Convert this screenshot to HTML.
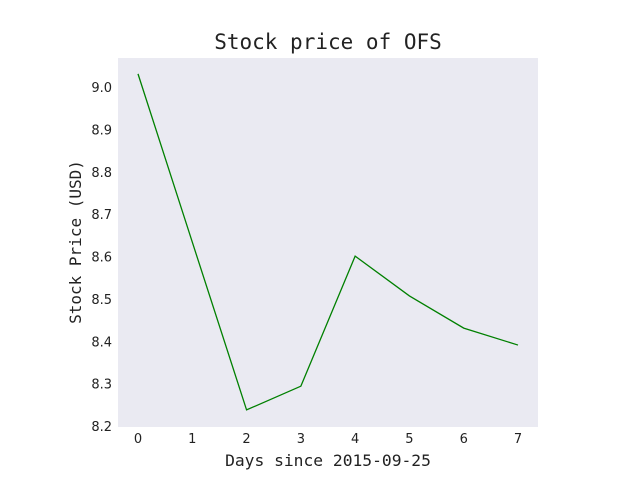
<!DOCTYPE html>
<html><head><meta charset="utf-8"><style>
body{margin:0;background:#fff}
svg text{font-family:"DejaVu Sans","Liberation Sans",sans-serif}
</style></head><body>
<svg id="chart" width="640" height="480" xmlns="http://www.w3.org/2000/svg">
<rect x="118" y="58" width="420" height="369" fill="#eaeaf2"/>
<text x="328" y="49" text-anchor="middle" font-size="21" style="font-family:'DejaVu Sans Mono','Liberation Mono',monospace" fill="#222">Stock price of OFS</text>
<text x="328" y="466" text-anchor="middle" font-size="16.3" style="font-family:'DejaVu Sans Mono','Liberation Mono',monospace" fill="#222">Days since 2015-09-25</text>
<text transform="translate(81,242) rotate(-90)" text-anchor="middle" font-size="16" style="font-family:'DejaVu Sans Mono','Liberation Mono',monospace" fill="#222">Stock Price (USD)</text>
<g id="ticks"></g>
<polyline id="line" fill="none" stroke="#008000" stroke-width="1.3"/>
</svg>
<script>
const days = [0,1,2,3,4,5,6,7];
const prices = [9.031,8.634,8.238,8.294,8.601,8.507,8.431,8.391];
const xTicks = [0,1,2,3,4,5,6,7];
const yTicks = [8.2,8.3,8.4,8.5,8.6,8.7,8.8,8.9,9.0];
const xs = d => 138 + d*(518-138)/7;
const ys = v => 426 - (v-8.2)*(426-87)/0.8;
const NS="http://www.w3.org/2000/svg";
const g=document.getElementById('ticks');
xTicks.forEach(t=>{
  const e=document.createElementNS(NS,'text');
  e.setAttribute('x',xs(t));e.setAttribute('y',443);e.setAttribute('text-anchor','middle');
  e.setAttribute('font-size','13');e.setAttribute('fill','#222');e.textContent=t;
  
  
  g.appendChild(e);
});
yTicks.forEach(t=>{
  const e=document.createElementNS(NS,'text');
  e.setAttribute('x',112);e.setAttribute('y',ys(t)+5);e.setAttribute('text-anchor','end');
  e.setAttribute('font-size','13');e.setAttribute('fill','#222');e.textContent=t.toFixed(1);
  
  
  g.appendChild(e);
});
document.getElementById('line').setAttribute('points',days.map((d,i)=>xs(d)+','+ys(prices[i])).join(' '));
</script>
</body></html>
